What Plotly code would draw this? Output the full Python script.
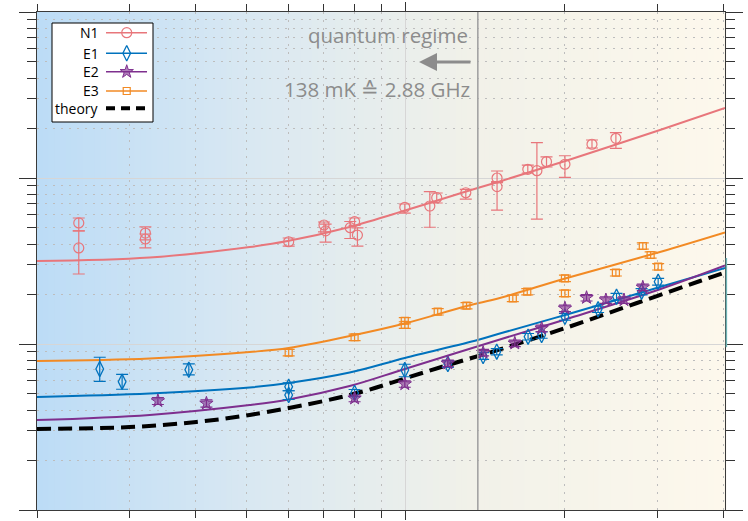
import numpy as np
import plotly.graph_objects as go

# ---------------- data (x: temperature in mK, y: arbitrary log quantity) ----------------
n1_T = [24, 24, 32.1, 32.1, 60, 70, 70.5, 78.5, 80, 81, 99.6, 111.1, 114.5, 130, 149, 149,
        170.4, 177.3, 184.9, 200.4, 225.5, 250.3]
n1_y = [53.6, 37.9, 46.6, 42.9, 41.3, 52.1, 48.0, 50.2, 54.6, 45.3, 66.6, 67.8, 76.1, 81.5,
        100, 88.7, 112.8, 110.7, 125.4, 121, 159.7, 173.4]
n1_up = [3.8, 10.1, 4.1, 3.1, 2.2, 2.2, 4.8, 4.5, 2.8, 4.7, 3.1, 14.9, 5.1, 4.0, 10.2, 5.0,
         6.8, 52.5, 8.5, 15.2, 9.7, 14.1]
n1_dn = [5.6, 11.5, 4.2, 5.0, 2.4, 4.8, 6.9, 7.0, 2.8, 6.4, 5.1, 17.3, 5.4, 7.0, 5.0, 24.6,
         5.6, 54.1, 8.9, 20.0, 8.1, 22.4]

e1_T = [26.3, 29.0, 38.8, 60, 60, 80, 99.6, 120.2, 140.2, 148.8, 170.6, 181, 200.4, 231.6,
        251, 280, 301]
e1_y = [7.07, 5.93, 7.00, 5.53, 4.93, 5.07, 6.97, 7.58, 8.47, 8.99, 11.07, 11.33, 14.60,
        16.18, 19.27, 20.66, 23.73]
e1_up = [1.25, 0.64, 0.58, 0.3, 0.3, 0.25, 0.58, 0.35, 0.4, 0.4, 0.5, 0.5, 0.7, 0.7, 0.9, 0.9, 1.1]
e1_dn = [1.11, 0.59, 0.49, 0.3, 0.3, 0.25, 0.62, 0.35, 0.4, 0.4, 0.5, 0.5, 0.7, 0.7, 0.9, 0.9, 1.1]

e2_T = [33.9, 41.9, 80, 99.6, 120.2, 140.2, 161, 181, 200.4, 220.2, 239.6, 259.3, 281.5]
e2_y = [4.54, 4.39, 4.71, 5.74, 7.65, 8.87, 10.10, 12.43, 16.41, 19.01, 18.41, 18.41, 21.96]
e2_err = [0.22, 0.22, 0.22, 0.25, 0.35, 0.4, 0.45, 0.55, 0.75, 0.85, 0.85, 0.85, 1.0]

e3_T = [60, 80, 99.6, 99.6, 115, 130.4, 159.6, 170, 200.4, 200.4, 250.3, 281.5, 291.3, 301]
e3_y = [8.87, 10.98, 13.81, 13.02, 15.65, 17.01, 18.85, 20.66, 24.88, 20.20, 26.88, 38.95,
        34.37, 29.22]
e3_err = [0.4, 0.5, 0.6, 0.6, 0.7, 0.75, 0.85, 0.9, 1.1, 0.9, 1.2, 1.7, 1.5, 1.3]

# fitted curves
fit_n1_T = [20, 32.7, 50.6, 59.7, 78.3, 100.4, 128.3, 150.8, 202.1, 303.4, 403]
fit_n1_y = [31.6, 33.2, 38.4, 41.7, 50.7, 64.1, 81.8, 95.3, 127.5, 194.6, 264.1]
fit_e1_T = [20, 32.7, 50.6, 60, 78.3, 99.6, 136.9, 150.8, 202.1, 303.4, 403]
fit_e1_y = [4.80, 5.03, 5.47, 5.82, 6.73, 8.24, 10.57, 11.57, 15.06, 22.05, 28.7]
fit_e2_T = [20, 32.7, 50.6, 60, 78.3, 99.6, 150.8, 202.1, 303.4, 403]
fit_e2_y = [3.48, 3.74, 4.29, 4.63, 5.58, 7.07, 10.64, 14.15, 21.36, 29.7]
fit_e3_T = [20, 32.7, 50.6, 60, 80, 100.4, 130.5, 150.8, 202.1, 303.4, 403]
fit_e3_y = [7.90, 8.18, 8.95, 9.46, 11.33, 13.38, 16.94, 18.93, 24.98, 35.84, 47.0]
theory_T = [20, 29.95, 40.1, 50.6, 70.8, 84.3, 99.6, 120.2, 150.8, 204.8, 274.4, 361.4, 403]
theory_y = [3.08, 3.16, 3.39, 3.74, 4.57, 5.25, 6.20, 7.47, 9.27, 12.75, 17.66, 23.96, 27.0]

quantum_T = 137

x_major = [100]
x_minor = [20, 30, 40, 50, 60, 70, 80, 90, 200, 300, 400]
y_major = [1, 10, 100, 1000]
y_minor = [m * d for d in (1, 10, 100) for m in range(2, 10)]

C_N1 = '#e8767b'
C_E1 = '#0072bd'
C_E2 = '#7e2f8e'
C_E3 = '#f28a24'
GRAY = '#8c8c8c'
FONT = 'Open Sans'

fig = go.Figure()

# fit lines
for T, y, c in [(fit_n1_T, fit_n1_y, C_N1), (fit_e3_T, fit_e3_y, C_E3),
                (fit_e1_T, fit_e1_y, C_E1), (fit_e2_T, fit_e2_y, C_E2)]:
    fig.add_trace(go.Scatter(x=T, y=y, mode='lines', line=dict(color=c, width=2, shape='spline', smoothing=1),
                             showlegend=False, hoverinfo='skip'))
fig.add_trace(go.Scatter(x=theory_T, y=theory_y, mode='lines',
                         line=dict(color='black', width=4, dash='14px,7px', shape='spline', smoothing=1),
                         showlegend=False, hoverinfo='skip'))

# data points
fig.add_trace(go.Scatter(x=n1_T, y=n1_y, mode='markers',
                         marker=dict(symbol='circle-open', size=10, color=C_N1, line=dict(width=1.2)),
                         error_y=dict(type='data', array=n1_up, arrayminus=n1_dn, symmetric=False,
                                      color=C_N1, thickness=1.2, width=6),
                         showlegend=False))
fig.add_trace(go.Scatter(x=e1_T, y=e1_y, mode='markers',
                         marker=dict(symbol='diamond-tall-open', size=11, color=C_E1, line=dict(width=1.3)),
                         error_y=dict(type='data', array=e1_up, arrayminus=e1_dn, symmetric=False,
                                      color=C_E1, thickness=1.2, width=6),
                         showlegend=False))
fig.add_trace(go.Scatter(x=e2_T, y=e2_y, mode='markers',
                         marker=dict(symbol='star', size=10, color='rgba(126,47,142,0.6)',
                                     line=dict(width=1, color=C_E2)),
                         error_y=dict(type='data', array=e2_err, color=C_E2, thickness=1.2, width=6),
                         showlegend=False))
fig.add_trace(go.Scatter(x=e3_T, y=e3_y, mode='markers',
                         marker=dict(symbol='square-open', size=7, color=C_E3, line=dict(width=1.2)),
                         error_y=dict(type='data', array=e3_err, color=C_E3, thickness=1.2, width=6),
                         showlegend=False))

# ---------------- manual legend on an overlay axis (0..1 == plot area) ----------------
lx0, lx1, ly0, ly1 = 0.0218, 0.1686, 0.7791, 0.9779
fig.add_trace(go.Scatter(x=[lx0, lx1, lx1, lx0, lx0], y=[ly0, ly0, ly1, ly1, ly0],
                         xaxis='x2', yaxis='y2', mode='lines', fill='toself',
                         fillcolor='white', line=dict(color='black', width=1),
                         showlegend=False, hoverinfo='skip'))
leg_names = ['N1', 'E1', 'E2', 'E3', 'theory']
leg_y = [0.9584, 0.9171, 0.8801, 0.8414, 0.8066]
leg_styles = [
    (C_N1, dict(symbol='circle-open', size=10, color=C_N1, line=dict(width=1.2))),
    (C_E1, dict(symbol='diamond-tall-open', size=11, color=C_E1, line=dict(width=1.3))),
    (C_E2, dict(symbol='star', size=10, color='rgba(126,47,142,0.6)', line=dict(width=1, color=C_E2))),
    (C_E3, dict(symbol='square-open', size=7, color=C_E3, line=dict(width=1.2))),
]
for (c, mk), yy in zip(leg_styles, leg_y[:4]):
    fig.add_trace(go.Scatter(x=[0.1003, 0.1599], y=[yy, yy], xaxis='x2', yaxis='y2', mode='lines',
                             line=dict(color=c, width=1.5), showlegend=False, hoverinfo='skip'))
    fig.add_trace(go.Scatter(x=[0.1304], y=[yy], xaxis='x2', yaxis='y2', mode='markers',
                             marker=mk, showlegend=False, hoverinfo='skip'))
fig.add_trace(go.Scatter(x=[0.1003, 0.1599], y=[leg_y[4], leg_y[4]], xaxis='x2', yaxis='y2',
                         mode='lines', line=dict(color='black', width=4, dash='9px,6px'),
                         showlegend=False, hoverinfo='skip'))

annotations = []
for name, yy in zip(leg_names, leg_y):
    annotations.append(dict(x=0.0925, y=yy, xref='paper', yref='paper', text=name,
                            showarrow=False, xanchor='right', yanchor='middle',
                            font=dict(family=FONT, size=14, color='black')))

annotations += [
    dict(x=0.6294, y=0.9538, xref='paper', yref='paper', text='quantum regime', showarrow=False,
         xanchor='right', yanchor='middle', font=dict(family=FONT, size=20.5, color=GRAY)),
    dict(x=0.6323, y=0.8454, xref='paper', yref='paper', text='138 mK \u2259 2.88 GHz',
         showarrow=False, xanchor='right', yanchor='middle',
         font=dict(family=FONT, size=20.5, color=GRAY)),
    dict(x=0.5552, y=0.8996, xref='paper', yref='paper', ax=53, ay=0, text='',
         showarrow=True, arrowhead=2, arrowsize=1.2, arrowwidth=3, arrowcolor=GRAY),
]

# ---------------- background gradient ----------------
stops = [(0.0, (188, 220, 246)), (0.31, (217, 232, 242)), (0.63, (241, 241, 233)), (1.0, (253, 248, 236))]
def grad(t):
    for (p0, c0), (p1, c1) in zip(stops[:-1], stops[1:]):
        if p0 <= t <= p1:
            f = (t - p0) / (p1 - p0)
            return 'rgb(%d,%d,%d)' % tuple(round(a + (b - a) * f) for a, b in zip(c0, c1))
    return 'rgb(%d,%d,%d)' % stops[-1][1]

shapes = []
N = 120
for i in range(N):
    shapes.append(dict(type='rect', xref='x domain', yref='y domain', x0=i / N, x1=(i + 1) / N + 0.002,
                       y0=0, y1=1, fillcolor=grad((i + 0.5) / N), line=dict(width=0), layer='below'))
shapes.append(dict(type='line', xref='x', yref='y domain', x0=quantum_T, x1=quantum_T, y0=0, y1=1,
                   line=dict(color='#a3a3a3', width=1.6), layer='above'))
shapes.append(dict(type='line', xref='x domain', yref='y domain', x0=1.002, x1=1.002, y0=0.327, y1=0.506,
                   line=dict(color='#6fb5b6', width=1.5), layer='above'))

axis_common = dict(showticklabels=False, showline=True, linecolor='#3a3a3a', linewidth=1,
                   mirror='allticks', ticks='outside', tickcolor='#333333', tickwidth=1.2,
                   showgrid=True, gridcolor='#d6d6d6', gridwidth=1, zeroline=False, automargin=False)

fig.update_layout(
    width=748, height=521,
    margin=dict(l=37, r=23, t=12, b=11, pad=0, autoexpand=False),
    paper_bgcolor='white', plot_bgcolor='white',
    showlegend=False,
    xaxis=dict(type='log', range=[np.log10(20), np.log10(403)], tickmode='array', tickvals=x_major,
               ticklen=9,
               minor=dict(tickmode='array', tickvals=x_minor, ticklen=7, tickcolor='#333333',
                          showgrid=True, gridcolor='#bdbdbd', griddash='2px,6px', gridwidth=1),
               **axis_common),
    yaxis=dict(type='log', range=[0, 3], tickmode='array', tickvals=y_major, ticklen=17,
               minor=dict(tickmode='array', tickvals=y_minor, ticklen=9, tickcolor='#333333',
                          showgrid=True, gridcolor='#bdbdbd', griddash='2px,6px', gridwidth=1),
               **axis_common),
    xaxis2=dict(overlaying='x', range=[0, 1], visible=False, domain=[0, 1], automargin=False),
    yaxis2=dict(overlaying='y', range=[0, 1], visible=False, domain=[0, 1], automargin=False),
    shapes=shapes,
    annotations=annotations,
)

fig.write_html('out.html', config={'displayModeBar': False},
               post_script="document.body.style.margin='0';")
